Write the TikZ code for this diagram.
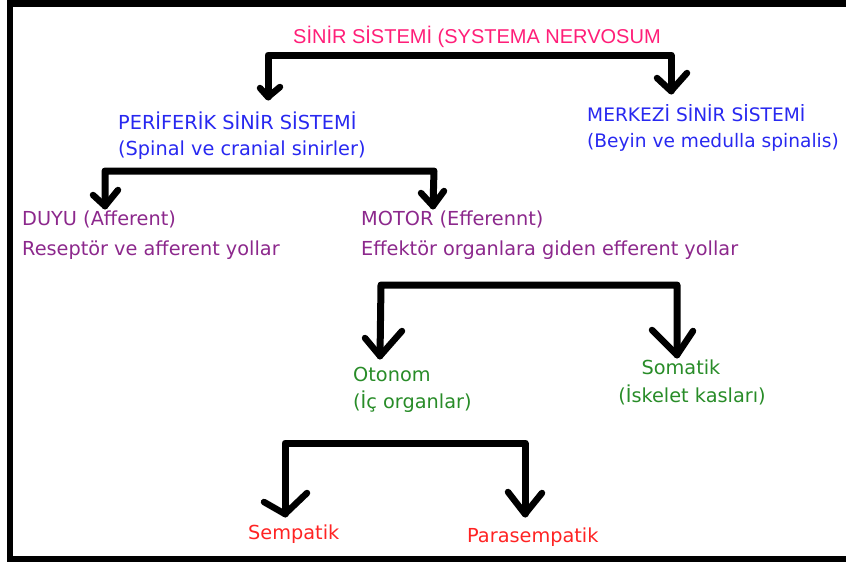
\documentclass[tikz,border=0pt]{standalone}
\usepackage{fontspec}
\setmainfont{DejaVu Sans}
\newfontfamily\titlefont{Liberation Sans}
\definecolor{titlepink}{RGB}{255,30,120}
\definecolor{txtblue}{RGB}{40,40,240}
\definecolor{txtpurple}{RGB}{140,40,140}
\definecolor{txtgreen}{RGB}{40,140,40}
\definecolor{txtred}{RGB}{255,35,35}
\begin{document}
\begin{tikzpicture}[x=1pt,y=-1pt,
  lbl/.style={anchor=base west, inner sep=0pt, font=\fontsize{19.3}{22}\selectfont},
  lblsm/.style={lbl, font=\fontsize{18.6}{22}\selectfont},
  conn/.style={line width=7pt, line cap=round, line join=round},
  wing/.style={line width=6.5pt, line cap=round, line join=round}]
\useasboundingbox (0,0) rectangle (846,562);
% frame
\fill[black] (7,0) rectangle (13,562);
\fill[black] (7,0) rectangle (846,7);
\fill[black] (7,556) rectangle (846,562);
% labels
\node[lbl, font=\titlefont\fontsize{20}{24}\selectfont, text=titlepink] (root) at (293,43) {SİNİR SİSTEMİ (SYSTEMA NERVOSUM};
\node[lbl, text=txtblue] (perA) at (118,129) {PERİFERİK SİNİR SİSTEMİ};
\node[lbl, text=txtblue] (perB) at (118,155) {(Spinal ve cranial sinirler)};
\node[lblsm, text=txtblue] (merA) at (587,121) {MERKEZİ SİNİR SİSTEMİ};
\node[lblsm, text=txtblue] (merB) at (587,147) {(Beyin ve medulla spinalis)};
\node[lbl, text=txtpurple] (duyA) at (22,225) {DUYU (Afferent)};
\node[lbl, text=txtpurple] (duyB) at (22,255) {Reseptör ve afferent yollar};
\node[lbl, text=txtpurple] (motA) at (361,225) {MOTOR (Efferennt)};
\node[lbl, text=txtpurple] (motB) at (361,255) {Effektör organlara giden efferent yollar};
\node[lbl, text=txtgreen] (otoA) at (353,381) {Otonom};
\node[lbl, text=txtgreen] (otoB) at (353,408) {(İç organlar)};
\node[lbl, text=txtgreen, anchor=base] (somA) at (681,374) {Somatik};
\node[lbl, text=txtgreen, anchor=base] (somB) at (692,402) {(İskelet kasları)};
\node[lbl, text=txtred] (sem) at (248,539) {Sempatik};
\node[lbl, text=txtred] (para) at (467,542) {Parasempatik};
% bracket 1
\coordinate (b1l) at (268,55); \coordinate (b1r) at (671,55);
\coordinate (t1l) at (268,97); \coordinate (t1r) at (671,91);
\draw[conn] (t1l) -- (b1l) -- (b1r) -- (t1r);
\draw[wing] (260,88) -- (t1l) -- (280,87);
\draw[wing] (657,78) -- (t1r) -- (687,73);
% bracket 2
\coordinate (b2l) at (105,171); \coordinate (b2r) at (434,171);
\coordinate (t2l) at (105,206); \coordinate (t2r) at (433,206);
\draw[conn] (t2l) -- (b2l) -- (b2r) -- (t2r);
\draw[wing] (93,195) -- (t2l) -- (118,190);
\draw[wing] (421,193) -- (t2r) -- (444,191);
% bracket 3
\coordinate (b3l) at (381,285); \coordinate (b3r) at (677,285);
\coordinate (t3l) at (380,356); \coordinate (t3r) at (677,355);
\draw[conn] (t3l) -- (b3l) -- (b3r) -- (t3r);
\draw[wing] (365,338) -- (t3l) -- (402,331);
\draw[wing] (652,330) -- (t3r) -- (693,331);
% bracket 4
\coordinate (b4l) at (285,443); \coordinate (b4r) at (525,443);
\coordinate (t4l) at (285,514); \coordinate (t4r) at (525,514);
\draw[conn] (t4l) -- (b4l) -- (b4r) -- (t4r);
\draw[wing] (264,502) -- (t4l) -- (307,493);
\draw[wing] (508,492) -- (t4r) -- (542,493);
\end{tikzpicture}
\end{document}
